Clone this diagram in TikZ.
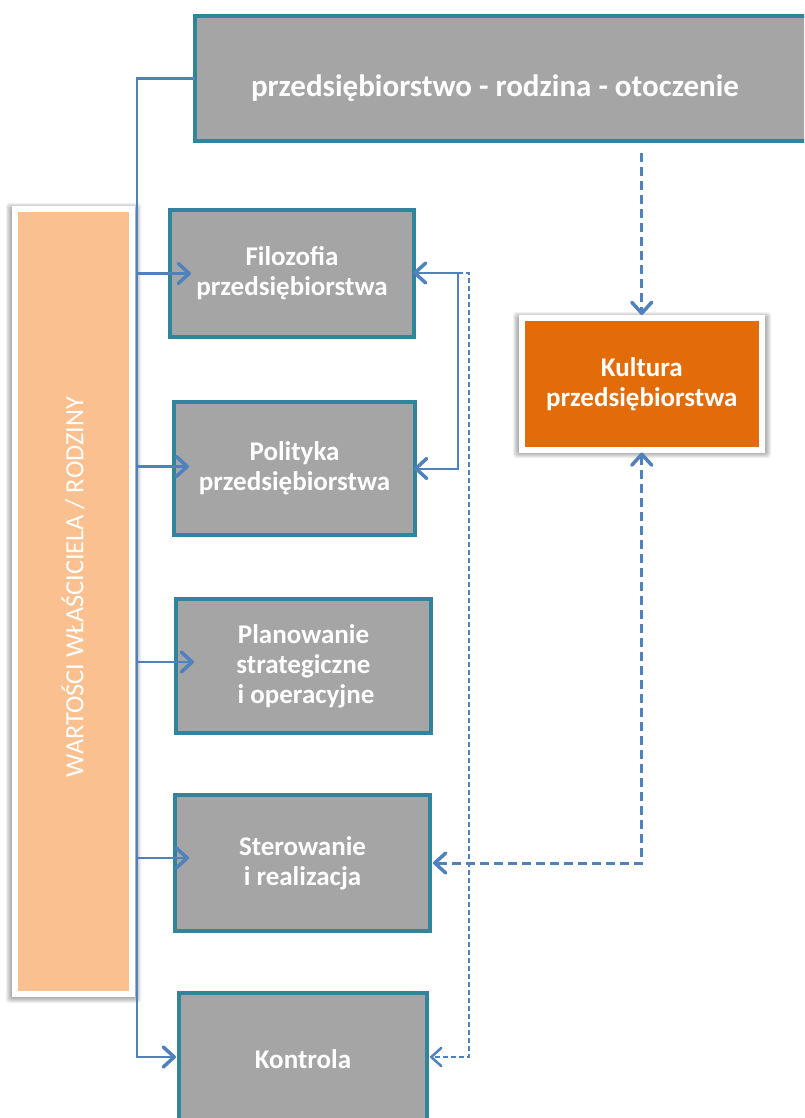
\documentclass[tikz,border=0pt]{standalone}
\usepackage{fontspec}
\setmainfont{Carlito}
\usetikzlibrary{arrows.meta}
\definecolor{boxedge}{HTML}{31849B}
\definecolor{boxfill}{HTML}{A5A5A5}
\definecolor{conblue}{HTML}{4F81BD}
\definecolor{peach}{HTML}{FAC08F}
\definecolor{kulorange}{HTML}{E36C0A}
\newcommand{\boxfont}{\fontsize{27}{30}\selectfont\bfseries}
\newcommand{\topfont}{\fontsize{31}{34}\selectfont\bfseries}
\newcommand{\barfont}{\fontsize{26.3}{30}\selectfont}
\begin{document}
\begin{tikzpicture}[x=1pt,y=-1pt,
  box/.style={draw=boxedge, line width=4pt, fill=boxfill, text=white, font=\boxfont, align=center, outer sep=0pt, inner sep=0pt},
  framed/.style={draw=white, line width=6pt, outer sep=0pt},
  shadowlayer/.style={fill=black, opacity=0.06, rounded corners=3pt},
  conn/.style={draw=conblue, line width=2.5pt},
  fbline/.style={draw=conblue, line width=2pt},
  thindash/.style={draw=conblue, line width=2pt, dash pattern=on 5pt off 3pt},
  thickdash/.style={draw=conblue, line width=3pt, dash pattern=on 9pt off 5pt},
  tipc/.style={-{Straight Barb[length=11pt,width=20pt,line width=3.5pt,round]}},
  tipthin/.style={-{Straight Barb[length=10pt,width=18pt,line width=2.5pt,round]}},
  tipboth/.style={{Straight Barb[length=11pt,width=20pt,line width=3.5pt,round]}-{Straight Barb[length=11pt,width=20pt,line width=3.5pt,round]}}
]
\clip (0,0) rectangle (804,1118);
\fill[white] (0,0) rectangle (804,1118);

% soft shadows
\foreach \i in {0,1,2,3,4,5}{
  \fill[shadowlayer] (11-\i,208-\i) rectangle (136+\i,998+\i);
  \fill[shadowlayer] (518-\i,317-\i) rectangle (766+\i,453+\i);
}

% top box
\node[box, minimum width=616, minimum height=125] (top) at (503,78.5) {};
\node[font=\topfont, text=white, inner sep=0pt] (toptxt) at (495,88) {przedsiębiorstwo - rodzina - otoczenie};

% left bar
\node[framed, fill=peach, minimum width=117, minimum height=784.5] (bar) at (73.5,601.25) {};
\node[rotate=90, font=\barfont, text=white, inner sep=0pt] (bartxt) at (73,587) {WARTOŚCI WŁAŚCICIELA / RODZINY};

% kultura
\node[framed, fill=kulorange, minimum width=239.5, minimum height=131.5, text=white, font=\boxfont, align=center] (kul) at (641.75,383.75) {Kultura\\przedsiębiorstwa};

% process boxes
\node[box, minimum width=244, minimum height=127] (fil) at (292,273.5) {Filozofia\\przedsiębiorstwa};
\node[box, minimum width=241, minimum height=133] (pol) at (294.5,468.5) {Polityka\\przedsiębiorstwa};
\node[box, minimum width=255, minimum height=134] (pla) at (303.5,666) {Planowanie\\strategiczne\\\kern5pt i operacyjne};
\node[box, minimum width=255, minimum height=136] (ste) at (302.5,863) {Sterowanie\\i realizacja};
\node[box, minimum width=248, minimum height=132] (kon) at (303,1059) {Kontrola};

% bus
\coordinate (busTop) at (137,78.5);
\draw[conn,tipc] (top.west) -- (busTop) |- ([xshift=-3,yshift=2]kon.west);
\draw[conn,tipc] (busTop |- fil.west) -- ([xshift=21]fil.west);
\draw[conn,tipc] ([yshift=2]busTop |- pol.west) -- ([xshift=15,yshift=2]pol.west);
\draw[conn,tipc] ([yshift=4]busTop |- pla.west) -- ([xshift=18,yshift=4]pla.west);
\draw[conn,tipc] ([yshift=5]busTop |- ste.west) -- ([xshift=14,yshift=5]ste.west);

% feedback filozofia / polityka
\coordinate (fb) at (458,273);
\coordinate (fbd) at (469,273);
\draw[fbline,tipboth] ([xshift=-1]fil.east |- fb) -- (fb) |- ([xshift=-1]pol.east);
\draw[thindash,tipthin] (fb) -- (fbd) |- ([xshift=3,yshift=2]kon.east);

% kultura connectors
\draw[thickdash,tipc] ([yshift=-12]kul.north |- top.south) -- ([yshift=3]kul.north);
\draw[thickdash,tipboth] ([yshift=-3]kul.south) -- (kul.south |- ste.east) -- ([xshift=3]ste.east);
\end{tikzpicture}
\end{document}
